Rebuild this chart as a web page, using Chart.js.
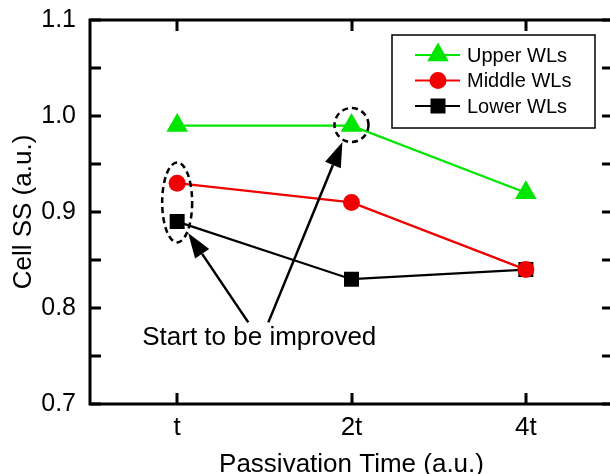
<!DOCTYPE html>
<html>
<head>
<meta charset="utf-8">
<script src="https://cdn.jsdelivr.net/npm/chart.js@4.4.0/dist/chart.umd.min.js"></script>
<style>
  html, body { margin: 0; padding: 0; background: #fff; overflow: hidden; width: 610px; height: 474px; }
  canvas { display: block; }
</style>
</head>
<body>
<canvas id="chart" width="616" height="474"></canvas>
<script>
// data
const categories = ['t', '2t', '4t'];
const upperWLs = [0.99, 0.99, 0.92];
const middleWLs = [0.93, 0.91, 0.84];
const lowerWLs = [0.89, 0.83, 0.84];
const yTickLabels = [0.7, 0.8, 0.9, 1.0, 1.1];
const noteText = 'Start to be improved';

const FONT = 'Arial, "Liberation Sans", sans-serif';
const GREEN = '#00e600';
const RED = '#f00000';

// ============================================================================
// MARKERS (shared by chart points and hand drawn legend)
// ============================================================================

function drawMarker(ctx, style, x, y, r, color) {
    ctx.save();
    ctx.fillStyle = color;
    ctx.beginPath();
    if (style === 'triangle') {
        ctx.moveTo(x, y - r);
        ctx.lineTo(x + r * 0.866, y + r * 0.5);
        ctx.lineTo(x - r * 0.866, y + r * 0.5);
        ctx.closePath();
    } else if (style === 'rect') {
        const s = r * Math.SQRT1_2;
        ctx.rect(x - s, y - s, 2 * s, 2 * s);
    } else {
        ctx.arc(x, y, r, 0, Math.PI * 2);
    }
    ctx.fill();
    ctx.restore();
}

// ============================================================================
// PLUGINS: frame with inward ticks, legend box, annotations
// ============================================================================

const framePlugin = {
    id: 'frame',
    afterDraw(chart) {
        const ctx = chart.ctx;
        const a = chart.chartArea;
        const xs = chart.scales.x, ys = chart.scales.y;
        ctx.save();
        ctx.strokeStyle = '#000';
        ctx.lineWidth = 3;
        ctx.strokeRect(a.left, a.top, a.right - a.left, a.bottom - a.top);
        ctx.beginPath();
        ys.ticks.forEach(t => {
            const py = Math.round(ys.getPixelForValue(t.value));
            ctx.moveTo(a.left, py);
            ctx.lineTo(a.left + 11, py);
            ctx.moveTo(a.right, py);
            ctx.lineTo(a.right - 11, py);
        });
        categories.forEach((c, i) => {
            const px = Math.round(xs.getPixelForValue(i));
            ctx.moveTo(px, a.bottom);
            ctx.lineTo(px, a.bottom - 11);
            ctx.moveTo(px, a.top);
            ctx.lineTo(px, a.top + 11);
        });
        ctx.stroke();
        ctx.restore();
    }
};

const legendPlugin = {
    id: 'boxLegend',
    afterDraw(chart) {
        const ctx = chart.ctx;
        const box = { x: 392, y: 35, w: 203, h: 93 };
        ctx.save();
        ctx.fillStyle = '#fff';
        ctx.fillRect(box.x, box.y, box.w, box.h);
        ctx.strokeStyle = '#000';
        ctx.lineWidth = 1.5;
        ctx.strokeRect(box.x, box.y, box.w, box.h);
        chart.data.datasets.forEach((ds, i) => {
            const cy = box.y + 20 + i * 25.5;
            ctx.strokeStyle = ds.borderColor;
            ctx.lineWidth = 2;
            ctx.beginPath();
            ctx.moveTo(box.x + 23, cy);
            ctx.lineTo(box.x + 68, cy);
            ctx.stroke();
            drawMarker(ctx, ds.pointStyle, box.x + 46, cy, ds.pointRadius, ds.borderColor);
            ctx.fillStyle = '#000';
            ctx.font = '20px ' + FONT;
            ctx.textBaseline = 'middle';
            ctx.fillText(ds.label, box.x + 75, cy + 1);
        });
        ctx.restore();
    }
};

const notePlugin = {
    id: 'notes',
    afterDatasetsDraw(chart) {
        const ctx = chart.ctx;
        const xs = chart.scales.x, ys = chart.scales.y;
        const px = v => xs.getPixelForValue(v);
        const py = v => ys.getPixelForValue(v);
        ctx.save();

        // dashed rings round the improved points
        ctx.strokeStyle = '#000';
        ctx.lineWidth = 2.5;
        ctx.setLineDash([6, 4]);
        [[0, 0.910, 15, 40], [1.0, 0.9906, 17, 17]].forEach(([cx, cy, rx, ry]) => {
            ctx.beginPath();
            ctx.ellipse(px(cx), py(cy), rx, ry, 0, 0, Math.PI * 2);
            ctx.stroke();
        });
        ctx.setLineDash([]);

        // arrows from the note to the rings
        const arrow = (x1, y1, x2, y2) => {
            const ang = Math.atan2(y2 - y1, x2 - x1);
            const len = 25, hw = 8.5;
            const bx = x2 - Math.cos(ang) * len, by = y2 - Math.sin(ang) * len;
            ctx.beginPath();
            ctx.moveTo(x1, y1);
            ctx.lineTo(bx, by);
            ctx.lineWidth = 2.5;
            ctx.stroke();
            ctx.beginPath();
            ctx.moveTo(x2, y2);
            ctx.lineTo(bx - Math.sin(ang) * hw, by + Math.cos(ang) * hw);
            ctx.lineTo(bx + Math.sin(ang) * hw, by - Math.cos(ang) * hw);
            ctx.closePath();
            ctx.fillStyle = '#000';
            ctx.fill();
        };
        arrow(px(0.408), py(0.785), px(0.063), py(0.878));
        arrow(px(0.523), py(0.785), px(0.948), py(0.973));

        ctx.fillStyle = '#000';
        ctx.font = '26px ' + FONT;
        ctx.textAlign = 'center';
        ctx.textBaseline = 'middle';
        ctx.fillText(noteText, px(0.471), py(0.769));
        ctx.restore();
    }
};

// ============================================================================
// CHART
// ============================================================================

const series = [
    { label: 'Upper WLs', data: upperWLs, color: GREEN, style: 'triangle', r: 12.5 },
    { label: 'Middle WLs', data: middleWLs, color: RED, style: 'circle', r: 8.5 },
    { label: 'Lower WLs', data: lowerWLs, color: '#000', style: 'rect', r: 10.6 }
];

new Chart(document.getElementById('chart'), {
    type: 'line',
    data: {
        labels: categories,
        datasets: series.map(s => ({
            label: s.label,
            data: s.data,
            borderColor: s.color,
            backgroundColor: s.color,
            borderWidth: 2.2,
            pointStyle: s.style,
            pointRadius: s.r,
            pointBorderWidth: 0,
            pointBackgroundColor: s.color,
            tension: 0,
            fill: false
        }))
    },
    options: {
        responsive: false,
        animation: false,
        events: [],
        layout: { autoPadding: false, padding: { top: 20, right: 3, left: 0, bottom: 0 } },
        plugins: { legend: { display: false }, tooltip: { enabled: false } },
        scales: {
            x: {
                offset: true,
                afterFit(s) { s.height = 70; s.paddingLeft = 0; s.paddingRight = 0; },
                grid: { display: false, drawTicks: false },
                border: { display: false },
                ticks: { padding: 8, color: '#000', font: { size: 26, family: FONT } },
                title: {
                    display: true, text: 'Passivation Time (a.u.)', color: '#000',
                    font: { size: 26, family: FONT, lineHeight: 0.7 },
                    padding: { top: 0, bottom: 0 }
                }
            },
            y: {
                min: 0.7,
                max: 1.1,
                afterFit(s) { s.width = 90; s.paddingTop = 0; s.paddingBottom = 0; },
                grid: { display: false, drawTicks: false },
                border: { display: false },
                ticks: {
                    stepSize: 0.05,
                    autoSkip: false,
                    padding: 14,
                    color: '#000',
                    font: { size: 25, family: FONT },
                    callback(v) {
                        const r = Math.round(v * 100) / 100;
                        return yTickLabels.some(t => Math.abs(t - r) < 1e-6) ? r.toFixed(1) : '';
                    }
                },
                title: {
                    display: true, text: 'Cell SS (a.u.)', color: '#000',
                    font: { size: 26, family: FONT },
                    padding: { top: 8, bottom: 0 }
                }
            }
        }
    },
    plugins: [framePlugin, notePlugin, legendPlugin]
});
</script>
</body>
</html>
